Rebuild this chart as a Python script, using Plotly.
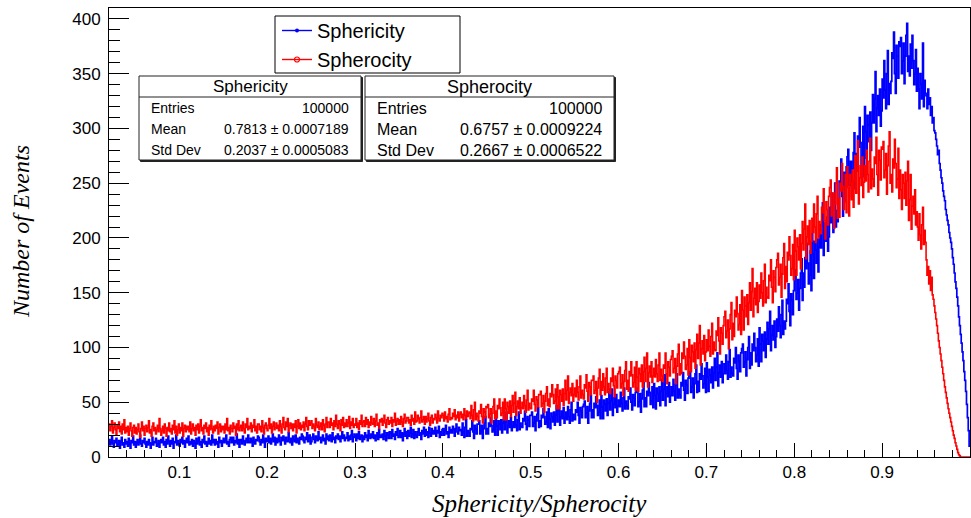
import plotly.graph_objects as go

# ---------------- data (1000-bin histograms, bins of width 0.001; visible from 0.02 to 1.0) ----------------
x_start = 0.02
bin_width = 0.001

sphericity_rows = [
    [16, 11, 14, 19, 12, 9, 15, 13, 17, 10],
    [12, 15, 8, 14, 18, 11, 13, 9, 16, 12],
    [14, 10, 17, 12, 8, 15, 13, 19, 11, 14],
    [9, 13, 16, 11, 14, 20, 12, 10, 15, 13],
    [17, 12, 9, 14, 11, 16, 13, 8, 12, 18],
    [11, 14, 13, 17, 10, 12, 15, 9, 14, 16],
    [13, 18, 11, 14, 9, 16, 12, 19, 14, 10],
    [15, 12, 17, 8, 14, 13, 20, 11, 15, 12],
    [10, 16, 13, 18, 12, 15, 9, 14, 17, 13],
    [19, 11, 14, 12, 16, 10, 15, 13, 8, 17],
    [12, 15, 18, 11, 14, 9, 16, 13, 19, 12],
    [14, 10, 13, 17, 12, 15, 11, 20, 13, 16],
    [11, 16, 12, 14, 9, 18, 13, 15, 10, 14],
    [17, 13, 15, 20, 12, 14, 10, 16, 18, 13],
    [14, 18, 11, 15, 13, 21, 12, 16, 9, 15],
    [16, 12, 19, 14, 11, 15, 17, 13, 20, 14],
    [13, 17, 15, 10, 18, 14, 12, 16, 15, 19],
    [18, 14, 11, 16, 13, 20, 15, 9, 17, 14],
    [15, 19, 13, 17, 12, 16, 21, 14, 18, 11],
    [17, 13, 16, 20, 14, 11, 18, 15, 19, 16],
    [12, 18, 15, 14, 22, 16, 13, 17, 11, 19],
    [16, 14, 20, 13, 17, 15, 12, 18, 16, 21],
    [19, 15, 13, 18, 16, 22, 14, 17, 20, 12],
    [14, 18, 21, 16, 13, 19, 17, 15, 23, 16],
    [18, 13, 16, 20, 15, 17, 12, 21, 16, 19],
    [15, 20, 17, 14, 22, 16, 18, 13, 19, 17],
    [21, 16, 19, 14, 18, 23, 17, 20, 15, 18],
    [17, 22, 15, 19, 16, 20, 24, 14, 18, 21],
    [19, 15, 21, 17, 23, 16, 18, 20, 14, 19],
    [16, 22, 18, 20, 15, 24, 19, 17, 21, 18],
    [23, 17, 20, 15, 19, 22, 16, 25, 18, 20],
    [18, 21, 16, 24, 19, 15, 22, 20, 17, 23],
    [22, 17, 25, 19, 21, 16, 23, 20, 26, 18],
    [19, 24, 18, 22, 15, 21, 26, 19, 23, 17],
    [24, 19, 22, 27, 18, 21, 25, 17, 23, 20],
    [18, 23, 26, 20, 22, 16, 24, 21, 27, 19],
    [25, 20, 23, 18, 27, 22, 19, 26, 21, 24],
    [21, 27, 19, 24, 22, 28, 18, 23, 20, 25],
    [26, 20, 24, 29, 21, 23, 18, 27, 22, 25],
    [22, 28, 25, 19, 26, 30, 23, 21, 27, 24],
    [25, 20, 31, 23, 18, 27, 34, 19, 24, 22],
    [19, 26, 25, 33, 23, 17, 29, 26, 21, 30],
    [30, 33, 21, 24, 29, 17, 26, 31, 37, 21],
    [26, 21, 31, 28, 36, 29, 23, 25, 33, 20],
    [36, 28, 20, 33, 30, 25, 34, 22, 31, 38],
    [25, 32, 41, 22, 29, 33, 27, 36, 24, 28],
    [32, 27, 37, 29, 24, 34, 41, 25, 31, 28],
    [27, 35, 33, 42, 30, 25, 37, 34, 28, 38],
    [38, 41, 28, 31, 37, 24, 33, 39, 45, 27],
    [33, 28, 38, 36, 44, 37, 30, 32, 41, 27],
    [44, 35, 26, 40, 37, 32, 41, 29, 38, 47],
    [32, 42, 50, 29, 37, 42, 35, 45, 31, 36],
    [41, 34, 46, 37, 31, 43, 50, 33, 39, 35],
    [34, 43, 41, 50, 38, 31, 45, 42, 36, 46],
    [48, 51, 36, 40, 46, 31, 42, 49, 56, 36],
    [43, 36, 49, 45, 55, 47, 38, 41, 52, 35],
    [56, 46, 35, 52, 48, 42, 53, 38, 49, 60],
    [43, 51, 62, 38, 48, 54, 45, 57, 41, 47],
    [52, 46, 59, 49, 42, 54, 63, 44, 51, 47],
    [44, 55, 53, 63, 50, 43, 57, 54, 47, 59],
    [60, 63, 46, 50, 58, 41, 53, 61, 68, 46],
    [54, 46, 60, 56, 68, 59, 48, 51, 64, 45],
    [67, 56, 44, 63, 58, 51, 64, 47, 60, 71],
    [52, 62, 75, 47, 58, 64, 55, 68, 50, 56],
    [64, 56, 71, 60, 52, 66, 76, 54, 62, 57],
    [54, 68, 65, 77, 61, 52, 70, 66, 58, 72],
    [74, 78, 59, 64, 72, 54, 67, 76, 84, 59],
    [69, 60, 76, 71, 85, 74, 63, 67, 81, 59],
    [86, 73, 60, 80, 75, 68, 82, 63, 77, 90],
    [70, 82, 95, 65, 77, 84, 73, 87, 68, 76],
    [85, 76, 93, 79, 71, 87, 98, 73, 82, 77],
    [74, 90, 86, 100, 81, 71, 93, 88, 78, 95],
    [99, 103, 82, 87, 96, 74, 89, 100, 110, 81],
    [95, 84, 103, 97, 113, 100, 87, 93, 108, 83],
    [118, 103, 87, 112, 106, 97, 114, 91, 108, 123],
    [103, 117, 133, 97, 111, 120, 107, 124, 100, 110],
    [126, 115, 137, 120, 109, 130, 143, 112, 124, 117],
    [124, 144, 140, 158, 133, 120, 149, 143, 130, 152],
    [165, 171, 144, 150, 162, 134, 154, 168, 181, 143],
    [168, 155, 182, 172, 195, 177, 158, 166, 188, 152],
    [204, 185, 163, 197, 189, 177, 199, 169, 192, 212],
    [191, 211, 232, 184, 204, 214, 197, 219, 188, 201],
    [228, 214, 241, 220, 205, 232, 250, 210, 225, 215],
    [225, 252, 247, 272, 238, 220, 260, 252, 234, 265],
    [274, 281, 248, 256, 270, 238, 263, 278, 296, 245],
    [277, 261, 293, 283, 310, 287, 265, 274, 302, 256],
    [320, 297, 273, 312, 303, 288, 315, 280, 305, 331],
    [305, 327, 352, 297, 319, 330, 312, 336, 302, 316],
    [345, 328, 362, 335, 318, 350, 371, 322, 341, 332],
    [343, 369, 364, 388, 350, 332, 376, 366, 346, 379],
    [375, 383, 350, 362, 378, 341, 366, 385, 396, 352],
    [366, 348, 377, 355, 385, 362, 340, 350, 372, 334],
    [355, 336, 318, 350, 341, 327, 378, 320, 344, 332],
    [330, 318, 336, 322, 328, 312, 320, 305, 310, 298],
    [296, 290, 284, 276, 280, 268, 262, 255, 250, 243],
    [238, 234, 226, 221, 216, 212, 205, 200, 196, 190],
    [182, 176, 168, 160, 154, 146, 138, 128, 120, 112],
    [104, 96, 88, 78, 70, 60, 48, 36, 24, 10],
]

spherocity_rows = [
    [30, 24, 28, 33, 22, 27, 31, 25, 20, 29],
    [26, 32, 23, 28, 21, 30, 25, 34, 22, 27],
    [23, 28, 20, 26, 31, 24, 19, 27, 29, 22],
    [27, 21, 25, 30, 23, 18, 26, 32, 24, 28],
    [20, 26, 29, 23, 27, 33, 22, 25, 19, 28],
    [31, 24, 27, 21, 25, 29, 23, 35, 26, 20],
    [24, 28, 22, 30, 26, 19, 27, 24, 31, 23],
    [26, 21, 29, 25, 33, 22, 28, 20, 25, 30],
    [22, 27, 24, 31, 19, 26, 29, 23, 28, 25],
    [28, 23, 32, 21, 26, 30, 24, 27, 20, 29],
    [25, 30, 22, 28, 34, 24, 27, 21, 29, 26],
    [31, 23, 27, 20, 29, 25, 33, 26, 22, 28],
    [24, 29, 26, 32, 21, 27, 30, 23, 28, 25],
    [28, 22, 30, 25, 35, 24, 27, 21, 29, 26],
    [23, 31, 26, 28, 20, 30, 25, 33, 24, 27],
    [29, 24, 32, 26, 22, 30, 27, 35, 25, 28],
    [26, 31, 23, 29, 27, 34, 24, 28, 22, 30],
    [30, 25, 28, 23, 33, 27, 21, 29, 31, 26],
    [24, 29, 35, 26, 30, 22, 28, 32, 25, 27],
    [31, 26, 29, 24, 33, 28, 22, 30, 36, 27],
    [25, 32, 28, 35, 23, 29, 31, 26, 30, 24],
    [30, 27, 33, 22, 28, 34, 26, 31, 25, 29],
    [27, 32, 24, 30, 36, 28, 25, 33, 29, 31],
    [33, 26, 30, 28, 24, 35, 29, 27, 32, 25],
    [28, 31, 25, 34, 29, 23, 30, 36, 27, 32],
    [32, 27, 35, 29, 31, 25, 33, 28, 38, 30],
    [26, 33, 30, 24, 34, 29, 36, 27, 31, 28],
    [34, 28, 31, 37, 26, 32, 29, 35, 27, 30],
    [29, 35, 27, 31, 25, 33, 30, 38, 28, 32],
    [33, 28, 36, 30, 34, 27, 32, 29, 37, 31],
    [30, 35, 28, 33, 39, 29, 31, 26, 34, 32],
    [35, 29, 33, 38, 31, 27, 34, 36, 30, 33],
    [31, 36, 28, 34, 32, 40, 29, 33, 35, 30],
    [34, 30, 37, 32, 28, 35, 39, 31, 33, 36],
    [36, 31, 34, 29, 38, 33, 35, 30, 41, 32],
    [33, 38, 35, 31, 36, 42, 32, 34, 37, 30],
    [37, 32, 35, 40, 33, 29, 36, 38, 31, 35],
    [34, 39, 36, 31, 42, 35, 33, 38, 36, 40],
    [38, 33, 41, 35, 37, 32, 39, 44, 34, 36],
    [35, 40, 37, 43, 34, 38, 36, 41, 33, 39],
    [41, 36, 39, 34, 44, 38, 35, 42, 37, 40],
    [41, 35, 47, 38, 33, 43, 50, 34, 40, 37],
    [33, 42, 40, 48, 37, 31, 44, 41, 36, 46],
    [45, 48, 36, 39, 44, 31, 40, 46, 53, 35],
    [42, 36, 47, 44, 53, 45, 38, 40, 50, 34],
    [53, 44, 34, 50, 46, 40, 51, 37, 47, 56],
    [41, 49, 59, 38, 46, 51, 44, 54, 40, 45],
    [50, 44, 56, 47, 41, 52, 61, 43, 49, 45],
    [44, 53, 51, 61, 48, 42, 55, 52, 46, 57],
    [57, 60, 46, 49, 56, 41, 51, 58, 64, 47],
    [53, 46, 58, 55, 66, 57, 49, 51, 62, 44],
    [66, 55, 44, 61, 57, 51, 62, 47, 58, 70],
    [52, 61, 74, 49, 59, 63, 56, 67, 51, 57],
    [63, 55, 70, 59, 52, 64, 74, 54, 61, 57],
    [53, 66, 63, 75, 60, 51, 68, 64, 57, 70],
    [70, 74, 58, 61, 69, 50, 63, 72, 80, 57],
    [69, 61, 76, 64, 57, 72, 81, 59, 67, 62],
    [58, 72, 69, 81, 65, 55, 74, 70, 63, 76],
    [78, 82, 63, 67, 75, 56, 69, 79, 87, 62],
    [70, 60, 78, 74, 87, 75, 64, 68, 82, 61],
    [87, 73, 60, 81, 76, 69, 84, 64, 78, 91],
    [69, 81, 95, 64, 77, 83, 73, 87, 68, 74],
    [81, 73, 89, 76, 69, 84, 95, 70, 80, 74],
    [69, 84, 81, 95, 76, 67, 87, 82, 74, 89],
    [92, 97, 77, 81, 90, 67, 83, 94, 103, 75],
    [85, 76, 95, 90, 105, 92, 80, 84, 99, 75],
    [107, 91, 78, 102, 96, 87, 104, 81, 98, 112],
    [90, 104, 120, 84, 99, 106, 94, 111, 88, 96],
    [107, 97, 116, 101, 92, 110, 122, 94, 105, 98],
    [97, 115, 111, 127, 106, 94, 118, 113, 103, 120],
    [128, 133, 109, 115, 125, 99, 117, 130, 141, 107],
    [122, 110, 134, 128, 146, 131, 116, 121, 139, 112],
    [152, 134, 116, 146, 138, 128, 148, 121, 141, 159],
    [134, 151, 172, 128, 145, 154, 139, 159, 132, 142],
    [157, 145, 168, 150, 138, 161, 176, 141, 155, 146],
    [145, 166, 161, 180, 155, 141, 170, 164, 151, 173],
    [180, 186, 157, 164, 176, 146, 167, 182, 195, 154],
    [174, 160, 187, 180, 201, 184, 166, 172, 194, 162],
    [207, 188, 166, 200, 192, 180, 203, 172, 195, 215],
    [189, 208, 231, 181, 201, 211, 194, 216, 186, 197],
    [218, 205, 231, 210, 196, 222, 238, 200, 215, 206],
    [204, 228, 223, 245, 216, 199, 233, 226, 212, 238],
    [246, 253, 220, 227, 241, 209, 231, 250, 264, 218],
    [236, 219, 250, 243, 268, 247, 226, 233, 258, 223],
    [265, 246, 220, 258, 250, 235, 262, 228, 253, 275],
    [241, 262, 289, 231, 255, 266, 248, 274, 237, 251],
    [266, 252, 280, 258, 242, 270, 291, 245, 263, 254],
    [247, 274, 268, 292, 258, 239, 280, 271, 253, 283],
    [281, 288, 255, 262, 277, 240, 266, 284, 297, 250],
    [258, 242, 272, 264, 290, 268, 246, 254, 282, 236],
    [262, 244, 226, 258, 250, 236, 260, 230, 252, 270],
    [216, 235, 258, 208, 229, 238, 222, 244, 212, 224],
    [210, 198, 222, 203, 190, 212, 228, 194, 207, 196],
    [180, 166, 174, 158, 170, 152, 164, 148, 144, 138],
    [132, 126, 120, 113, 106, 100, 94, 88, 82, 76],
    [70, 64, 59, 54, 49, 44, 40, 36, 32, 28],
    [24, 20, 17, 13, 10, 7, 4, 2, 1, 0],
    [0, 0, 0, 0, 0, 0, 0, 0, 0, 0],
]

sphericity_counts = [v for row in sphericity_rows for v in row]
spherocity_counts = [v for row in spherocity_rows for v in row]

x_ticks = [0.1, 0.2, 0.3, 0.4, 0.5, 0.6, 0.7, 0.8, 0.9, 1.0]
x_tick_labels = ["0.1", "0.2", "0.3", "0.4", "0.5", "0.6", "0.7", "0.8", "0.9", "1"]
y_ticks = [0, 50, 100, 150, 200, 250, 300, 350, 400]

stats = {
    "Sphericity": {"Entries": "100000", "Mean": "0.7813 \u00b1 0.0007189", "Std Dev": "0.2037 \u00b1 0.0005083"},
    "Spherocity": {"Entries": "100000", "Mean": "0.6757 \u00b1 0.0009224", "Std Dev": "0.2667 \u00b1 0.0006522"},
}


def step_xy(counts):
    xs = [x_start + i * bin_width for i in range(len(counts))] + [x_start + len(counts) * bin_width]
    ys = list(counts) + [counts[-1]]
    return xs, ys


# ---------------- figure geometry ----------------
W, H = 971, 518
L, R, T, B = 109, 1, 8, 61
PW, PH = W - L - R, H - T - B


def px(x):
    return (x - L) / PW


def py(y):
    return (H - B - y) / PH


SANS = "Liberation Sans, Arial, sans-serif"
SERIF = "Liberation Serif, Times New Roman, serif"
BLUE = "#0000ff"
RED = "#ff0000"

fig = go.Figure()
bx, by = step_xy(sphericity_counts)
rx, ry = step_xy(spherocity_counts)
fig.add_trace(go.Scatter(x=bx, y=by, mode="lines", line=dict(color=BLUE, width=1.7, shape="hv"),
                         showlegend=False, hoverinfo="skip"))
fig.add_trace(go.Scatter(x=rx, y=ry, mode="lines", line=dict(color=RED, width=1.6, shape="hv"),
                         showlegend=False, hoverinfo="skip"))
# legend entries
fig.add_trace(go.Scatter(x=[None], y=[None], mode="lines+markers", name="Sphericity",
                         line=dict(color=BLUE, width=1.4), marker=dict(color=BLUE, size=4, symbol="circle")))
fig.add_trace(go.Scatter(x=[None], y=[None], mode="lines+markers", name="Spherocity",
                         line=dict(color=RED, width=1.4),
                         marker=dict(color=RED, size=5, symbol="circle-open", line=dict(width=1.2))))

shapes = []
annotations = []

# legend frame
shapes.append(dict(type="rect", xref="paper", yref="paper", x0=px(275), x1=px(460), y0=py(73), y1=py(16),
                   line=dict(color="black", width=1), fillcolor="white", layer="below"))


def stat_box(name, x0, x1, title_size, row_size):
    shapes.append(dict(type="rect", xref="paper", yref="paper", x0=px(x0 + 1.5), x1=px(x1 + 1.5),
                       y0=py(161.5), y1=py(77.5), line=dict(color="#222", width=1), fillcolor="#222",
                       layer="above"))
    shapes.append(dict(type="rect", xref="paper", yref="paper", x0=px(x0), x1=px(x1), y0=py(160), y1=py(76),
                       line=dict(color="#222", width=1), fillcolor="white", layer="above"))
    shapes.append(dict(type="line", xref="paper", yref="paper", x0=px(x0), x1=px(x1), y0=py(97), y1=py(97),
                       line=dict(color="#222", width=1), layer="above"))
    annotations.append(dict(text=name, xref="paper", yref="paper", x=px((x0 + x1) / 2), y=py(87),
                            xanchor="center", yanchor="middle", showarrow=False,
                            font=dict(family=SANS, size=title_size, color="black")))
    for label, yy in (("Entries", 108), ("Mean", 129), ("Std Dev", 150)):
        annotations.append(dict(text=label, xref="paper", yref="paper", x=px(x0 + 10), y=py(yy),
                                xanchor="left", yanchor="middle", showarrow=False,
                                font=dict(family=SANS, size=row_size, color="black")))
        annotations.append(dict(text=stats[name][label], xref="paper", yref="paper", x=px(x1 - 10), y=py(yy),
                                xanchor="right", yanchor="middle", showarrow=False,
                                font=dict(family=SANS, size=row_size, color="black")))


stat_box("Sphericity", 139, 361, 17, 14)
stat_box("Spherocity", 365, 614, 18, 16)

# axis titles
annotations.append(dict(text="<i>Sphericity/Spherocity</i>", xref="paper", yref="paper", x=px(539), y=py(503),
                        xanchor="center", yanchor="middle", showarrow=False,
                        font=dict(family=SERIF, size=25, color="black")))
annotations.append(dict(text="<i>Number of Events</i>", xref="paper", yref="paper", x=px(21), y=py(232),
                        xanchor="center", yanchor="middle", showarrow=False, textangle=-90,
                        font=dict(family=SERIF, size=24, color="black")))

fig.update_layout(
    width=W, height=H,
    margin=dict(l=L, r=R, t=T, b=B, pad=0),
    paper_bgcolor="white", plot_bgcolor="white",
    shapes=shapes, annotations=annotations,
    legend=dict(x=px(277), y=py(11), xanchor="left", yanchor="top", bgcolor="rgba(0,0,0,0)",
                borderwidth=0, font=dict(family=SANS, size=20, color="black"), tracegroupgap=0,
                itemwidth=30),
    xaxis=dict(range=[0.02, 1.0], tickvals=x_ticks, ticktext=x_tick_labels, ticks="inside", ticklen=14,
               tickwidth=1, tickcolor="black", showline=True, linecolor="black", linewidth=1, mirror=True,
               showgrid=False, zeroline=False, tickfont=dict(family=SANS, size=17, color="black"),
               minor=dict(ticks="inside", ticklen=7, dtick=0.02, tick0=0, tickcolor="black", showgrid=False)),
    yaxis=dict(range=[0, 410], tickvals=y_ticks, ticks="inside", ticklen=20, tickwidth=1, tickcolor="black",
               showline=True, linecolor="black", linewidth=1, mirror=True, showgrid=False, zeroline=False,
               tickfont=dict(family=SANS, size=17, color="black"), ticklabelstandoff=4,
               minor=dict(ticks="inside", ticklen=11, dtick=10, tick0=0, tickcolor="black", showgrid=False)),
)

fig.write_html("out.html")
